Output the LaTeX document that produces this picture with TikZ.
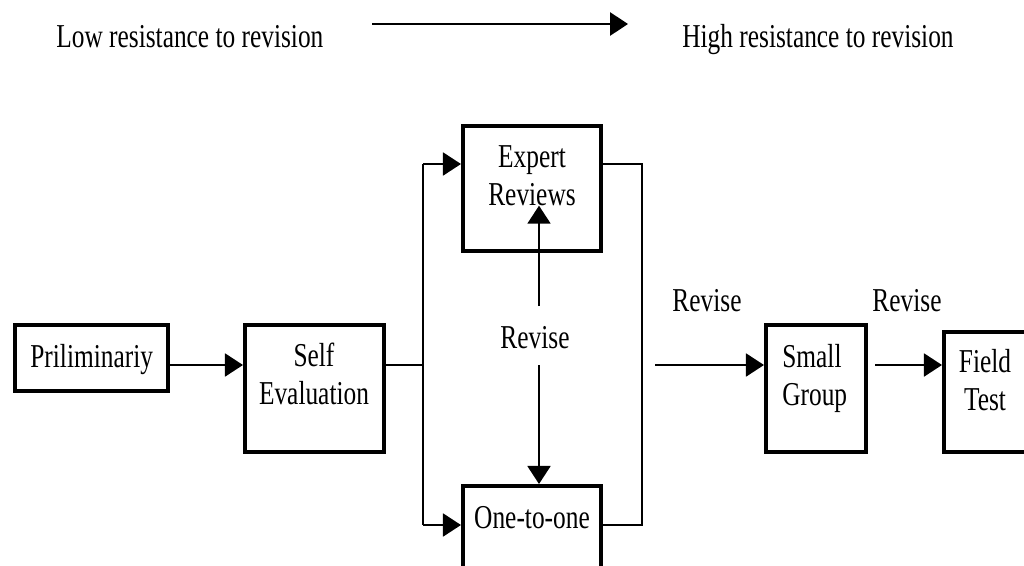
\documentclass[tikz,border=0pt]{standalone}
\usepackage{fontspec}
\setmainfont{Liberation Serif}[FakeStretch=0.76]
\usetikzlibrary{arrows.meta}

\begin{document}
\begin{tikzpicture}[x=0.02cm, y=-0.02cm, font=\fontsize{19}{21.3}\selectfont,
    box/.style={draw, line width=2.3pt, inner sep=0pt},
    conn/.style={line width=1.1pt},
    arr/.style={conn, -{Triangle[length=0.36cm, width=0.46cm]}},
    lbl/.style={inner sep=0pt, anchor=base}]
  \useasboundingbox (0,0) rectangle (1024,565);
  \clip (0,0) rectangle (1024,565);
  % boxes: name/x/y/width/height (px)
  \foreach \name/\x/\y/\w/\h in {prelim/91.5/358/153/66, self/314.5/388.5/139/127,
      expert/532/188.5/138/125, oto/532/540/138/108, small/816/388.5/100/127,
      field/1001/392/114/120} {
    \node[box, minimum width=\w*0.02cm, minimum height=\h*0.02cm] (\name) at (\x,\y) {};
  }
  % texts (base = last line)
  \node[lbl, anchor=base west] (prelimtxt) at (30,367) {Priliminariy};
  \node[lbl, align=center] (selftxt) at (314,404) {Self\\Evaluation};
  \node[lbl, align=center] (experttxt) at (532,205) {Expert\\Reviews};
  \node[lbl] (ototxt) at (532,528) {One-to-one};
  \node[lbl, anchor=base west, align=left] (smalltxt) at (782,405) {Small\\Group};
  \node[lbl, align=center] (fieldtxt) at (985,410) {Field\\Test};
  \node[lbl] (rev) at (535,348) {Revise};
  \node[lbl] (revsg) at (707,311) {Revise};
  \node[lbl] (revft) at (907,311) {Revise};
  \node[lbl, anchor=base west] (low) at (56,47) {Low resistance to revision};
  \node[lbl, anchor=base west] (high) at (682,47) {High resistance to revision};

  % junctions
  \coordinate (jm) at (423,365);
  \coordinate (jt) at (423,164);
  \coordinate (jb) at (423,525);
  \coordinate (rt) at (642,164);
  \coordinate (rb) at (642,525);
  \coordinate (vu) at (539,306);
  \coordinate (vd) at (539,365);
  \coordinate (gs) at (655,365);
  \coordinate (ta) at (372,24);
  \coordinate (tb) at (628,24);

  \draw[arr] (prelim.east |- jm) -- (self.west |- jm);
  \draw[conn] (self.east |- jm) -- (jm);
  \draw[conn] (jt) -- (jb);
  \draw[arr] (jt) -- (expert.west |- jt);
  \draw[arr] (jb) -- (oto.west |- jb);
  \draw[conn] (expert.east |- rt) -- (rt) -- (rb) -- (oto.east |- rb);
  \draw[arr] (vu) -- (vu |- experttxt.south);
  \draw[arr] (vd) -- (vd |- oto.north);
  \draw[arr] (gs) -- (small.west |- gs);
  \draw[arr, shorten <=0.14cm] (small.east |- gs) -- (field.west |- gs);
  \draw[arr, line width=1.7pt] (ta) -- (tb);
\end{tikzpicture}
\end{document}
